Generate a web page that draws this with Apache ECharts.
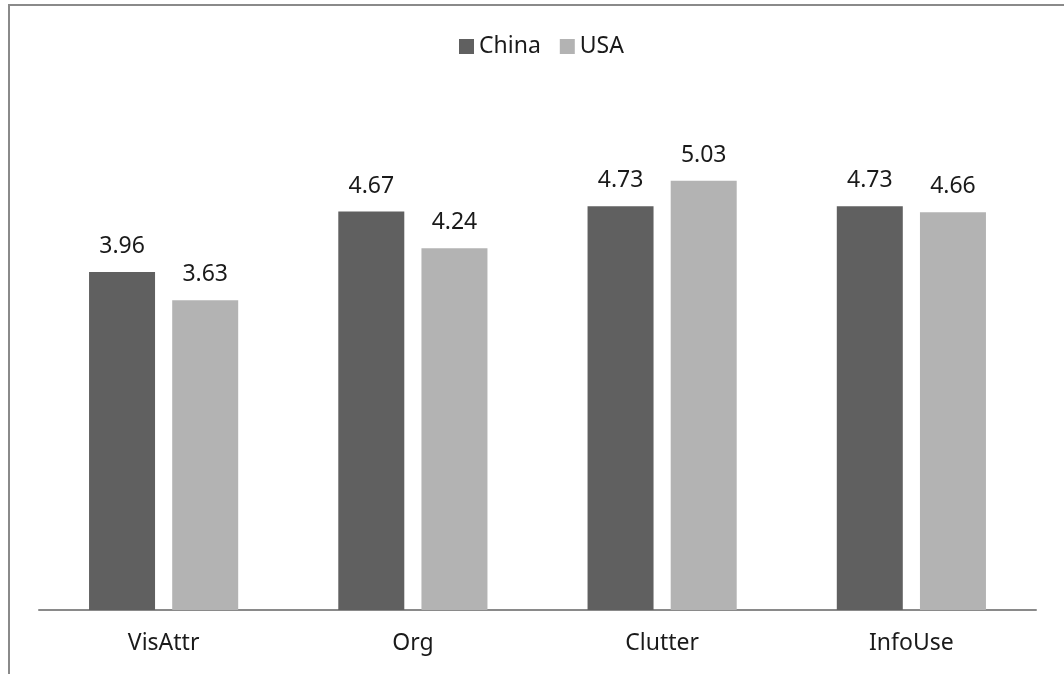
<!DOCTYPE html>
<html>
<head>
<meta charset="utf-8">
<style>
  html, body { margin: 0; padding: 0; background: #ffffff; }
  #chart { width: 1064px; height: 674px; }
</style>
<script src="https://cdn.jsdelivr.net/npm/echarts@6/dist/echarts.min.js"></script>
</head>
<body>
<div id="chart"></div>
<script>
// Mean scores per dimension, by country
const categories = ['VisAttr', 'Org', 'Clutter', 'InfoUse'];
const chinaValues = [3.96, 4.67, 4.73, 4.73];
const usaValues = [3.63, 4.24, 5.03, 4.66];
const seriesNames = ['China', 'USA'];

const FONT = '"Noto Sans", "Open Sans", sans-serif';
const TEXT_COLOR = '#1a1a1a';
const FONT_SIZE = 23;

const chart = echarts.init(document.getElementById('chart'), null, { renderer: 'canvas' });

const labelStyle = {
  show: true,
  position: 'top',
  distance: 14,
  color: TEXT_COLOR,
  fontFamily: FONT,
  fontSize: FONT_SIZE,
  formatter: p => p.value.toFixed(2)
};

chart.setOption({
  animation: false,
  backgroundColor: '#ffffff',
  graphic: [{
    type: 'rect',
    silent: true,
    shape: { x: 9, y: 5, width: 1100, height: 700 },
    style: { fill: 'none', stroke: '#8a8a8a', lineWidth: 2 }
  }],
  legend: {
    data: seriesNames,
    left: 454,
    top: 30,
    itemWidth: 15,
    itemHeight: 15,
    itemGap: 19,
    icon: 'rect',
    textStyle: { color: TEXT_COLOR, fontFamily: FONT, fontSize: FONT_SIZE }
  },
  grid: { left: 39, right: 28, top: 98, bottom: 64 },
  xAxis: {
    type: 'category',
    data: categories,
    axisLine: { show: true, lineStyle: { color: '#8a8a8a', width: 2 } },
    axisTick: { show: false },
    axisLabel: { color: TEXT_COLOR, fontFamily: FONT, fontSize: FONT_SIZE, margin: 22 }
  },
  yAxis: {
    type: 'value',
    min: 0,
    max: 6,
    interval: 1,
    show: false,
    splitLine: { show: false }
  },
  series: [
    {
      name: seriesNames[0],
      type: 'bar',
      data: chinaValues,
      barWidth: 66,
      barGap: '26%',
      itemStyle: { color: '#606060' },
      label: labelStyle
    },
    {
      name: seriesNames[1],
      type: 'bar',
      data: usaValues,
      barWidth: 66,
      barGap: '26%',
      itemStyle: { color: '#b3b3b3' },
      label: labelStyle
    }
  ]
});
</script>
</body>
</html>
